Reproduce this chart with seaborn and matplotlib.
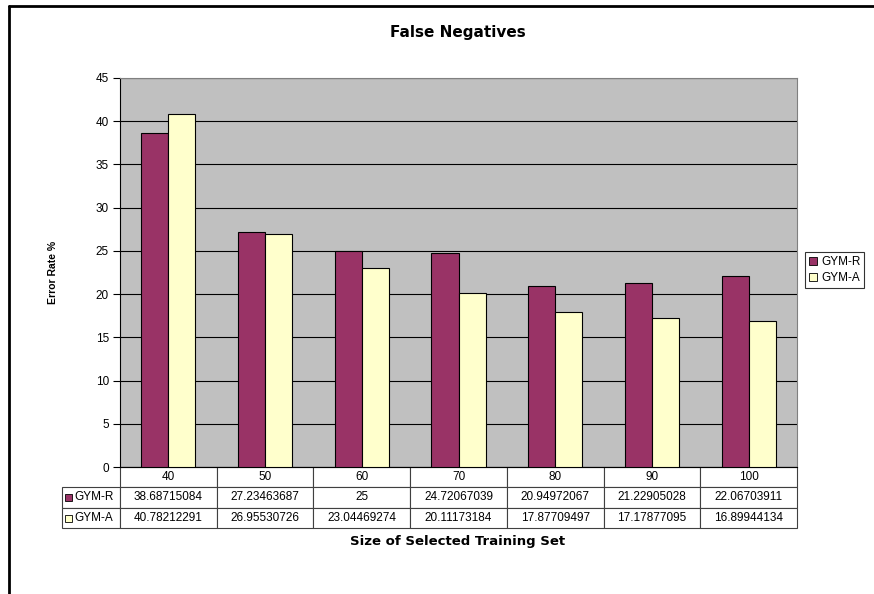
import matplotlib
matplotlib.use("Agg")
import matplotlib.pyplot as plt
import seaborn as sns
import pandas as pd
from matplotlib.patches import Rectangle
from matplotlib.lines import Line2D

# Data
sizes = ["40", "50", "60", "70", "80", "90", "100"]
gym_r = [38.68715084, 27.23463687, 25, 24.72067039, 20.94972067, 21.22905028, 22.06703911]
gym_a = [40.78212291, 26.95530726, 23.04469274, 20.11173184, 17.87709497, 17.17877095, 16.89944134]
gym_r_txt = ["38.68715084", "27.23463687", "25", "24.72067039", "20.94972067", "21.22905028", "22.06703911"]
gym_a_txt = ["40.78212291", "26.95530726", "23.04469274", "20.11173184", "17.87709497", "17.17877095", "16.89944134"]
series = ["GYM-R", "GYM-A"]
colors = {"GYM-R": "#993366", "GYM-A": "#FFFFCC"}

df = pd.DataFrame({
    "size": sizes * 2,
    "rate": gym_r + gym_a,
    "series": ["GYM-R"] * len(sizes) + ["GYM-A"] * len(sizes),
})

sns.set_style("white")
plt.rcParams["font.family"] = ["Liberation Sans", "DejaVu Sans"]
plt.rcParams["text.color"] = "black"
plt.rcParams["axes.labelcolor"] = "black"
plt.rcParams["ytick.color"] = "black"
plt.rcParams["xtick.color"] = "black"

W, H = 874, 594
fig = plt.figure(figsize=(8.74, 5.94), dpi=100)
ax = fig.add_axes([120 / W, 1 - 467 / H, 677 / W, 389 / H])
ax.set_facecolor("#C0C0C0")

sns.barplot(data=df, x="size", y="rate", hue="series", order=sizes,
            hue_order=series, palette=colors, width=0.56, saturation=1,
            edgecolor="black", linewidth=0.8, legend=False, ax=ax, zorder=3)

ax.set_ylim(0, 45)
ax.set_yticks(range(0, 46, 5))
ax.yaxis.grid(True, color="black", linewidth=0.8, zorder=0)
ax.set_axisbelow(True)
ax.tick_params(axis="y", direction="out", length=5, width=0.8, labelsize=8.5,
               left=True, pad=3)
ax.tick_params(axis="x", bottom=False, labelbottom=False)
ax.set_xlabel("")
ax.set_ylabel("Error Rate %", fontsize=7.5, fontweight="bold", labelpad=27)
for s in ["top", "right"]:
    ax.spines[s].set_color("#808080")
    ax.spines[s].set_linewidth(0.8)
ax.spines["left"].set_color("black")
ax.spines["bottom"].set_color("black")

# Data table under the axis
cell_rows = [[""] + sizes, [""] + gym_r_txt, [""] + gym_a_txt]
x0 = (62 - 120) / 677
tbl = ax.table(cellText=cell_rows, cellLoc="center",
               bbox=[x0, -61 / 389, 1 - x0, 61 / 389])
tbl.auto_set_font_size(False)
tbl.set_fontsize(8.5)
for (r, c), cell in tbl.get_celld().items():
    cell.set_width(58 if c == 0 else 677 / 7)
    cell.set_linewidth(0.8)
    cell.set_edgecolor("#404040")
    if r == 0 and c == 0:
        cell.visible_edges = ""

# legend keys inside the table row headers
for i, name in enumerate(series):
    yc = -(20.5 * (i + 1) + 10) / 389
    ax.add_patch(Rectangle((x0 + 3 / 677, yc - 3.5 / 389), 7 / 677, 7 / 389,
                           transform=ax.transAxes, clip_on=False,
                           facecolor=colors[name], edgecolor="black", linewidth=0.6))
    ax.text(x0 + 12 / 677, yc, name, transform=ax.transAxes, fontsize=8.5,
            va="center", ha="left")

fig.text(458 / W, 1 - 541 / H, "Size of Selected Training Set", ha="center",
         va="center", fontsize=9.5, fontweight="bold", family="DejaVu Sans")
fig.text(458 / W, 1 - 33 / H, "False Negatives", ha="center", va="center",
         fontsize=11, fontweight="bold", family="DejaVu Sans")

handles = [Rectangle((0, 0), 1, 1, facecolor=colors[n], edgecolor="black", linewidth=0.6)
           for n in series]
leg = fig.legend(handles, series, loc="upper left",
                 bbox_to_anchor=(805 / W, 1 - 252 / H), frameon=True,
                 fontsize=8.5, fancybox=False, handlelength=0.7, handleheight=0.7,
                 handletextpad=0.3, borderpad=0.35, labelspacing=0.35,
                 borderaxespad=0)
leg.get_frame().set_edgecolor("black")
leg.get_frame().set_linewidth(0.8)

# outer chart frame (top and left edges visible)
fig.add_artist(Line2D([8.5 / W, 1], [1 - 6 / H, 1 - 6 / H], color="black", linewidth=2,
                      transform=fig.transFigure))
fig.add_artist(Line2D([8.5 / W, 8.5 / W], [0, 1 - 6 / H], color="black", linewidth=2,
                      transform=fig.transFigure))

fig.savefig("out.png", dpi=100, facecolor="white")
